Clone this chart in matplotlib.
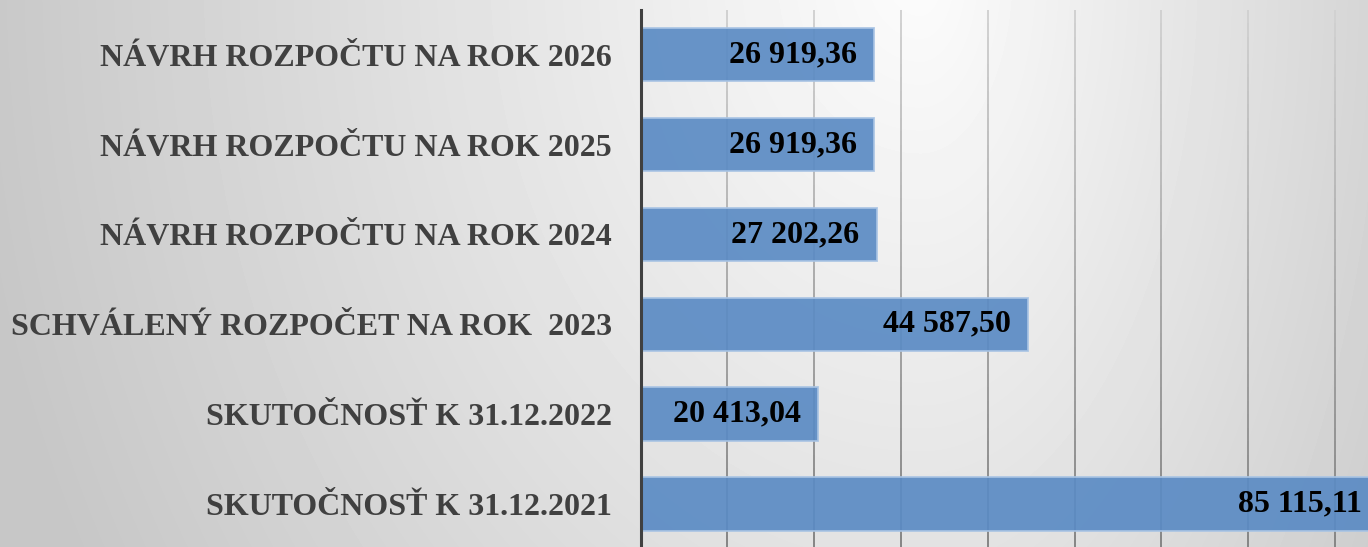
import numpy as np
import matplotlib
matplotlib.use("Agg")
import matplotlib.pyplot as plt
from matplotlib.collections import LineCollection

# data, top to bottom as in the chart
categories = ["NÁVRH ROZPOČTU NA ROK 2026",
              "NÁVRH ROZPOČTU NA ROK 2025",
              "NÁVRH ROZPOČTU NA ROK 2024",
              "SCHVÁLENÝ ROZPOČET NA ROK  2023",
              "SKUTOČNOSŤ K 31.12.2022",
              "SKUTOČNOSŤ K 31.12.2021"]
values = [26919.36, 26919.36, 27202.26, 44587.50, 20413.04, 85115.11]
x_ticks = [10000, 20000, 30000, 40000, 50000, 60000, 70000, 80000, 90000]


def fmt(v):
    # slovak style: space for thousands, comma for decimals
    return f"{v:,.2f}".replace(",", " ").replace(".", ",")


W, H = 1368, 547
fig = plt.figure(figsize=(W / 100, H / 100), dpi=100)

# gray radial-ish background, brightest near the top middle
bg = fig.add_axes([0, 0, 1, 1], zorder=0)
xx, yy = np.meshgrid(np.arange(W), np.arange(H))
sx = np.where(xx < 920, 900.0, 580.0)
r = np.sqrt(((xx - 920) / sx) ** 2 + ((yy + 30) / 1150.0) ** 2)
shade = np.clip(252 - 50 * r, 199, 252) / 255.0
bg.imshow(shade, cmap="gray", vmin=0, vmax=1, aspect="auto",
          extent=[0, W, H, 0], interpolation="bilinear")
bg.set_axis_off()

# plot area runs past the right edge of the picture (the long bar is cut off)
ax = fig.add_axes([640.5 / W, -1.9 / H, 781.2 / W, 539.1 / H], zorder=1)
ax.set_facecolor("none")

y = np.arange(len(categories))
ax.set_xlim(0, 90000)
ax.set_ylim(len(categories) - 0.5, -0.5)

# gridlines fading from light at the top to darker at the bottom
n = 40
ys = np.linspace(-0.5, len(categories) - 0.5, n + 1)
segs, cols = [], []
for t in x_ticks:
    for i in range(n):
        segs.append([(t, ys[i]), (t, ys[i + 1])])
        g = 0.82 - 0.30 * (i / (n - 1))
        cols.append((g, g, g))
ax.add_collection(LineCollection(segs, colors=cols, linewidths=1.4, zorder=1))

ax.barh(y, values, height=0.595, color="#5b8bc4", alpha=0.92,
        edgecolor="#a9c4e4", linewidth=1.3, zorder=2)

for yi, v in zip(y, values):
    ax.annotate(fmt(v), xy=(v, yi), xytext=(-12.3, 0), textcoords="offset points",
                ha="right", va="center", fontsize=23, fontweight="bold",
                family="Liberation Serif", color="black", zorder=3,
                annotation_clip=False)

ax.set_yticks(y)
ax.set_yticklabels(categories, fontsize=23, fontweight="bold",
                   family="Liberation Serif", color="#404040")
ax.tick_params(axis="y", length=0, pad=20.5)
ax.set_xticks([])

for s in ["top", "right", "bottom"]:
    ax.spines[s].set_visible(False)
ax.spines["left"].set_color("#404040")
ax.spines["left"].set_linewidth(2.2)
ax.spines["left"].set_zorder(4)

fig.savefig("out.png", dpi=100)
